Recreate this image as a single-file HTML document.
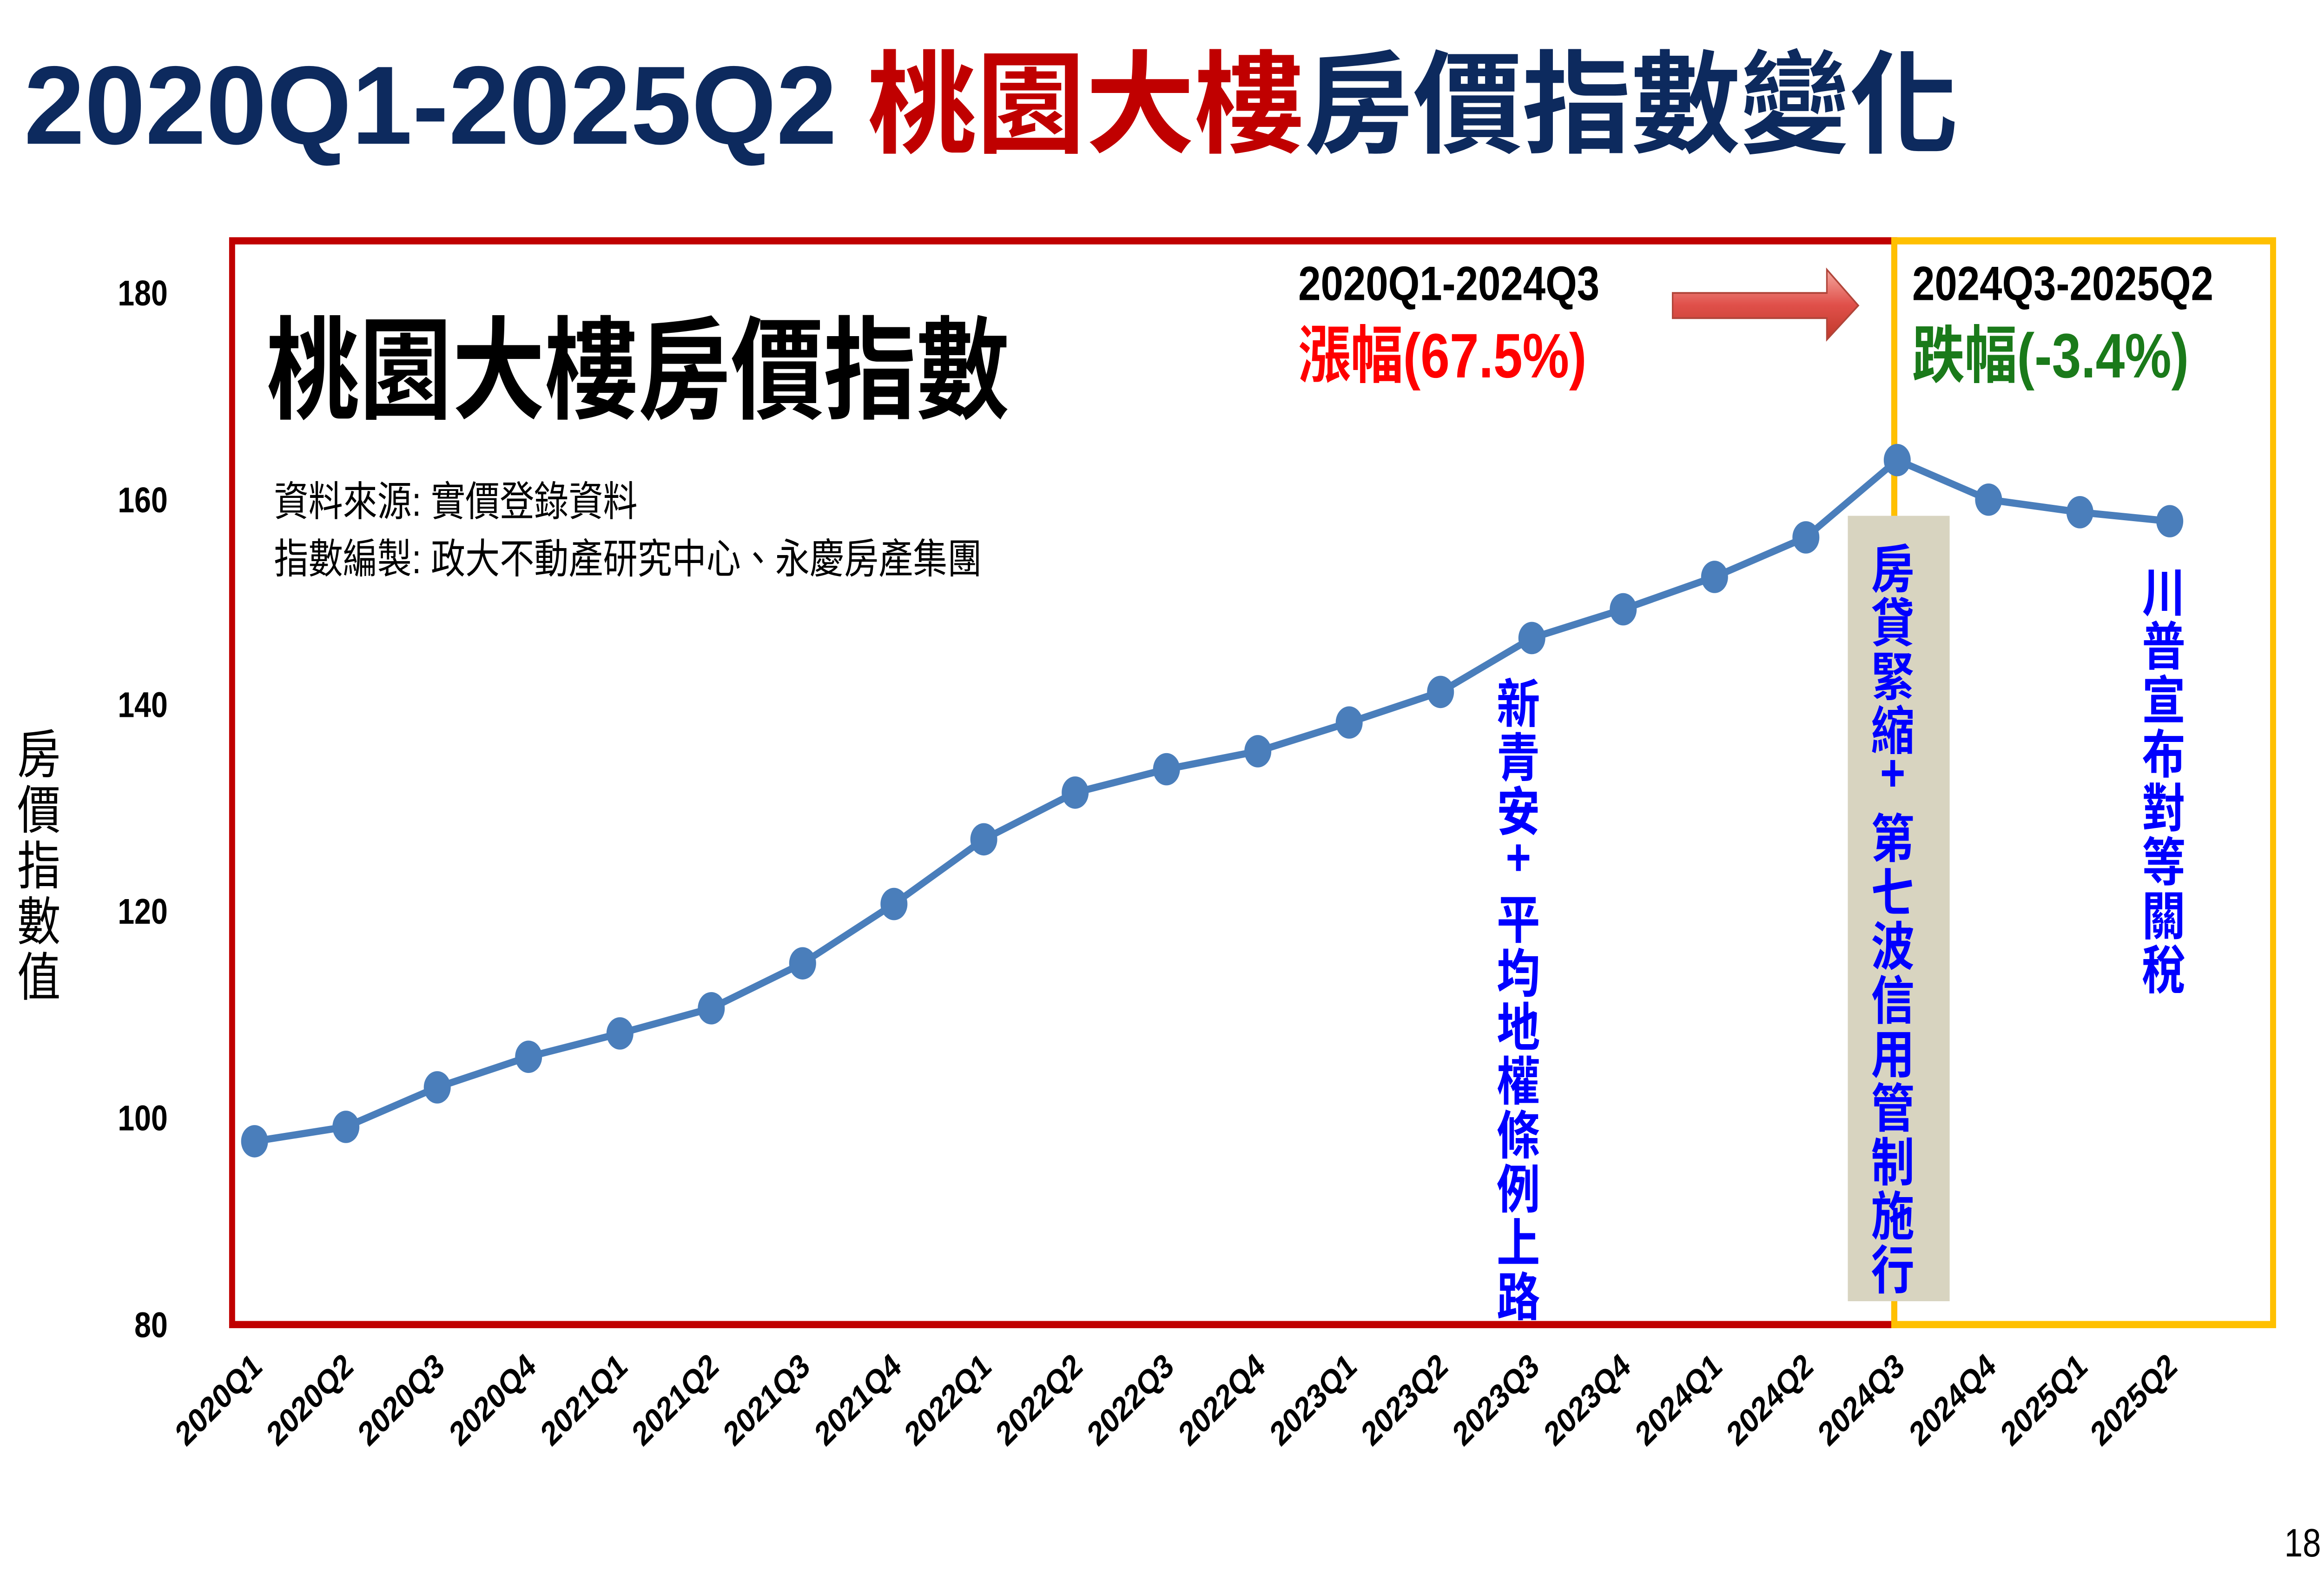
<!DOCTYPE html>
<html><head><meta charset="utf-8"><style>
html,body{margin:0;padding:0;background:#fff;width:100%;height:100%;overflow:hidden;}
svg{display:block;position:absolute;left:0;top:0;width:100vw;height:100vh;}
text{font-family:"Liberation Sans","Noto Sans CJK TC",sans-serif;}
</style></head><body>
<svg viewBox="0 0 1552 873" preserveAspectRatio="none" xmlns="http://www.w3.org/2000/svg">
<defs>
<linearGradient id="ag" x1="0" y1="0" x2="0" y2="1">
<stop offset="0" stop-color="#f4a9a0"/><stop offset="0.5" stop-color="#e0504a"/><stop offset="1" stop-color="#c0392b"/>
</linearGradient>
</defs>
<rect width="1552" height="873" fill="#fff"/>
<text x="16" y="80" font-size="62" font-weight="bold" fill="#0d2a5e" textLength="1292" lengthAdjust="spacingAndGlyphs"><tspan>2020Q1-2025Q2 </tspan><tspan fill="#c00000">桃園大樓</tspan><tspan>房價指數變化</tspan></text>

<rect x="155" y="134" width="1110" height="603" fill="none" stroke="#c00000" stroke-width="4"/>
<rect x="1265" y="134" width="253" height="603" fill="none" stroke="#ffc000" stroke-width="4"/>

<g font-size="20" font-weight="bold" text-anchor="end" fill="#000">
<text x="112" y="170">180</text>
<text x="112" y="285">160</text>
<text x="112" y="399">140</text>
<text x="112" y="514">120</text>
<text x="112" y="629">100</text>
<text x="112" y="744">80</text>
</g>
<g font-size="29" fill="#000" text-anchor="middle">
<text x="26" y="430">房</text><text x="26" y="461">價</text><text x="26" y="492">指</text><text x="26" y="523">數</text><text x="26" y="554">值</text>
</g>

<rect x="1234" y="287" width="68" height="437" fill="#d8d4c0"/>

<g font-size="29" font-weight="bold" fill="#0000ff" text-anchor="middle">
<text x="1014" y="402">新</text><text x="1014" y="432">青</text><text x="1014" y="462">安</text><text x="1014" y="487">+</text>
<text x="1014" y="522">平</text><text x="1014" y="552">均</text><text x="1014" y="582">地</text><text x="1014" y="612">權</text><text x="1014" y="642">條</text><text x="1014" y="672">例</text><text x="1014" y="702">上</text><text x="1014" y="732">路</text>

<text x="1264" y="327">房</text><text x="1264" y="357">貸</text><text x="1264" y="387">緊</text><text x="1264" y="417">縮</text><text x="1264" y="440">+</text>
<text x="1264" y="477">第</text><text x="1264" y="507">七</text><text x="1264" y="537">波</text><text x="1264" y="567">信</text><text x="1264" y="597">用</text><text x="1264" y="627">管</text><text x="1264" y="657">制</text><text x="1264" y="687">施</text><text x="1264" y="717">行</text>

<text x="1445" y="340">川</text><text x="1445" y="370">普</text><text x="1445" y="400">宣</text><text x="1445" y="430">布</text><text x="1445" y="460">對</text><text x="1445" y="490">等</text><text x="1445" y="520">關</text><text x="1445" y="550">稅</text>
</g>

<polyline fill="none" stroke="#4a7ebb" stroke-width="4" stroke-linejoin="round" points="170,635 231,627 292,605 353,588 414,575 475,561 536,536 597,503 657,467 718,441 779,428 840,418 901,402 962,385 1023,355 1084,339 1145,321 1206,299 1267,256 1328,278 1389,285 1449,290"/>
<g fill="#4a7ebb">
<circle cx="170" cy="635" r="9"/><circle cx="231" cy="627" r="9"/><circle cx="292" cy="605" r="9"/><circle cx="353" cy="588" r="9"/><circle cx="414" cy="575" r="9"/><circle cx="475" cy="561" r="9"/><circle cx="536" cy="536" r="9"/><circle cx="597" cy="503" r="9"/><circle cx="657" cy="467" r="9"/><circle cx="718" cy="441" r="9"/><circle cx="779" cy="428" r="9"/><circle cx="840" cy="418" r="9"/><circle cx="901" cy="402" r="9"/><circle cx="962" cy="385" r="9"/><circle cx="1023" cy="355" r="9"/><circle cx="1084" cy="339" r="9"/><circle cx="1145" cy="321" r="9"/><circle cx="1206" cy="299" r="9"/><circle cx="1267" cy="256" r="9"/><circle cx="1328" cy="278" r="9"/><circle cx="1389" cy="285" r="9"/><circle cx="1449" cy="290" r="9"/>
</g>

<g font-size="19" font-weight="bold" text-anchor="end" fill="#000">
<text transform="translate(176,762) rotate(-40)">2020Q1</text>
<text transform="translate(237,762) rotate(-40)">2020Q2</text>
<text transform="translate(298,762) rotate(-40)">2020Q3</text>
<text transform="translate(359,762) rotate(-40)">2020Q4</text>
<text transform="translate(420,762) rotate(-40)">2021Q1</text>
<text transform="translate(481,762) rotate(-40)">2021Q2</text>
<text transform="translate(542,762) rotate(-40)">2021Q3</text>
<text transform="translate(603,762) rotate(-40)">2021Q4</text>
<text transform="translate(663,762) rotate(-40)">2022Q1</text>
<text transform="translate(724,762) rotate(-40)">2022Q2</text>
<text transform="translate(785,762) rotate(-40)">2022Q3</text>
<text transform="translate(846,762) rotate(-40)">2022Q4</text>
<text transform="translate(907,762) rotate(-40)">2023Q1</text>
<text transform="translate(968,762) rotate(-40)">2023Q2</text>
<text transform="translate(1029,762) rotate(-40)">2023Q3</text>
<text transform="translate(1090,762) rotate(-40)">2023Q4</text>
<text transform="translate(1151,762) rotate(-40)">2024Q1</text>
<text transform="translate(1212,762) rotate(-40)">2024Q2</text>
<text transform="translate(1273,762) rotate(-40)">2024Q3</text>
<text transform="translate(1334,762) rotate(-40)">2024Q4</text>
<text transform="translate(1395,762) rotate(-40)">2025Q1</text>
<text transform="translate(1455,762) rotate(-40)">2025Q2</text>
</g>

<text x="178" y="228" font-size="62" font-weight="bold" fill="#000">桃園大樓房價指數</text>
<text x="183" y="287" font-size="23" fill="#000">資料來源: 實價登錄資料</text>
<text x="183" y="319" font-size="23" fill="#000">指數編製: 政大不動產研究中心、永慶房產集團</text>

<text x="867" y="167" font-size="27" font-weight="bold" fill="#000">2020Q1-2024Q3</text>
<text x="867" y="210" font-size="35" font-weight="bold" fill="#ff0000">漲幅(67.5%)</text>
<text x="1277" y="167" font-size="27" font-weight="bold" fill="#000">2024Q3-2025Q2</text>
<text x="1277" y="210" font-size="35" font-weight="bold" fill="#1a7a1a">跌幅(-3.4%)</text>

<polygon points="1117,163 1220,163 1220,150 1241,170 1220,189 1220,177 1117,177" fill="url(#ag)" stroke="#b0453a" stroke-width="1"/>

<text x="1550" y="866" font-size="22" text-anchor="end" fill="#000">18</text>
</svg>
</body></html>
